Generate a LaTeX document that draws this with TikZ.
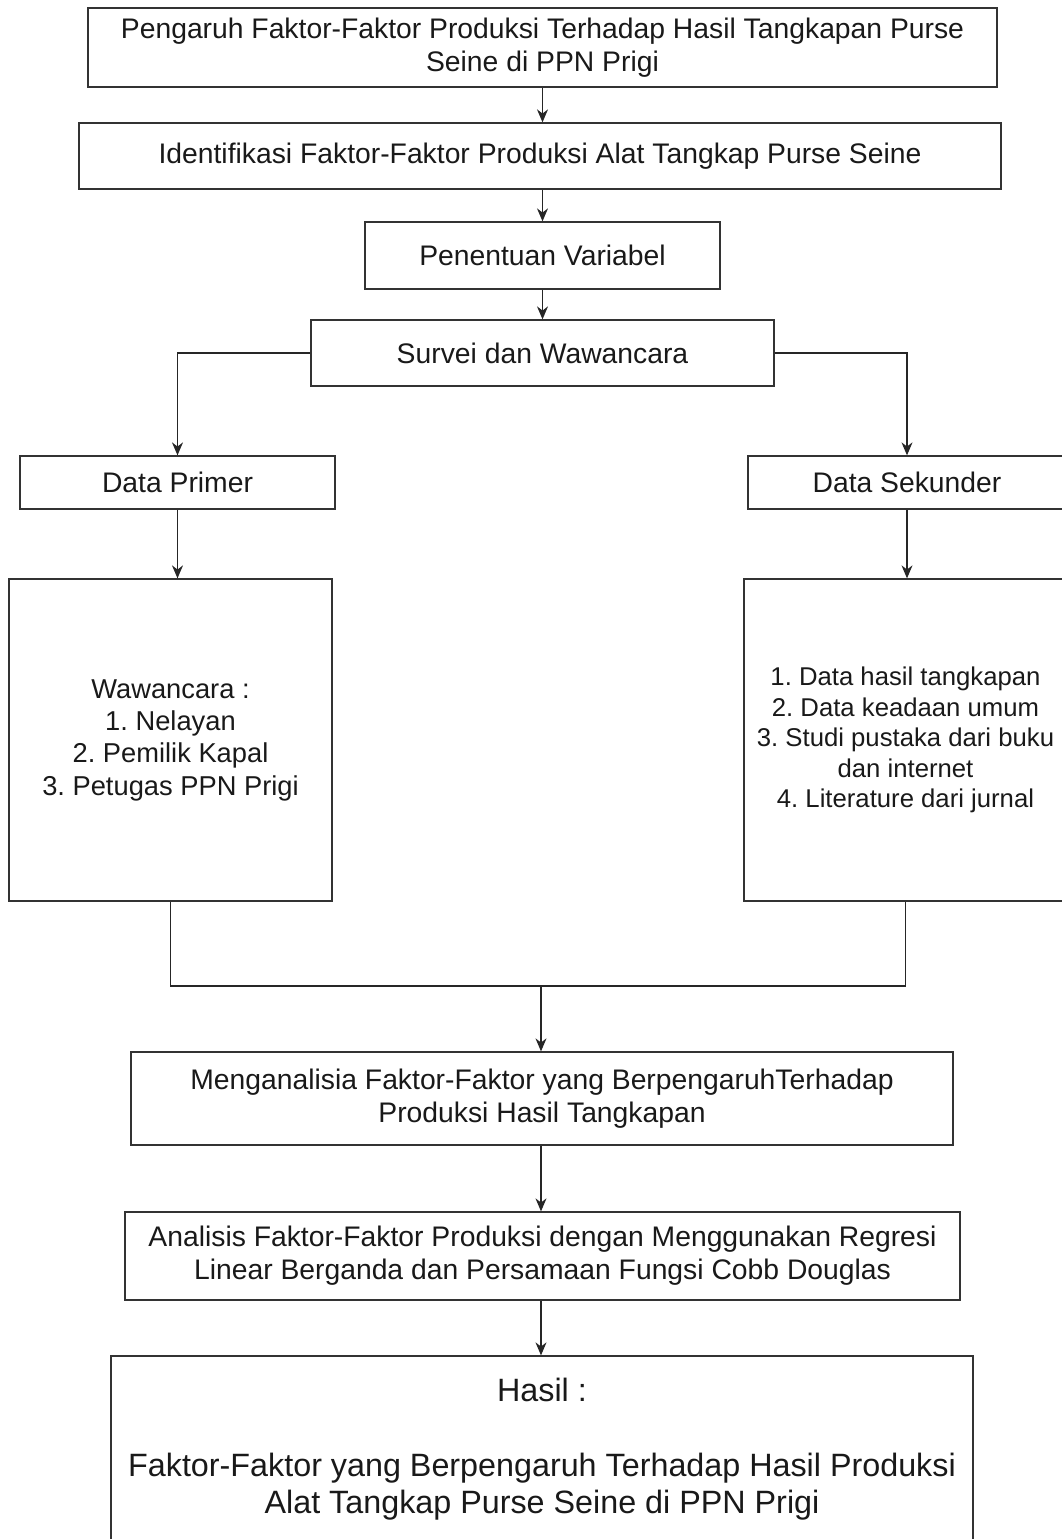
\documentclass[tikz,border=0pt]{standalone}
\usepackage{fontspec}
\setmainfont{Liberation Sans}
\usetikzlibrary{arrows.meta, positioning}
\frenchspacing

\begin{document}
\begin{tikzpicture}[x=1pt, y=-1pt,
    kotak/.style={draw=black!80, line width=1.3pt, align=center, inner sep=0pt,
        text=black!90, font=\fontsize{28.3}{33}\selectfont},
    panah/.style={-{Stealth[length=13pt, width=11pt]}, line width=1.3pt, draw=black!85}]
    \useasboundingbox (0,0) rectangle (1062,1539);
    \clip (0,0) rectangle (1062,1539);

    % alur utama
    \node[kotak, minimum width=909, minimum height=79] (judul) at (542.5,47.5)
        {Pengaruh Faktor-Faktor Produksi Terhadap Hasil Tangkapan Purse\\Seine di PPN Prigi};
    \node[kotak, minimum width=922, minimum height=66] (identifikasi) at (540,156)
        {Identifikasi Faktor-Faktor Produksi Alat Tangkap Purse Seine};
    \node[kotak, minimum width=355, minimum height=67] (variabel) at (542.5,255.5)
        {Penentuan Variabel};
    \node[kotak, minimum width=463, minimum height=66] (survei) at (542.5,353)
        {Survei dan Wawancara};

    % cabang data
    \node[kotak, minimum width=315, minimum height=53] (primer) at (177.5,482.5) {Data Primer};
    \node[kotak, minimum width=318, minimum height=53] (sekunder) at (907,482.5) {Data Sekunder};
    \node[kotak, minimum width=323, minimum height=322, font=\fontsize{27.3}{32.3}\selectfont] (wawancara) at (170.5,740)
        {Wawancara :\\1. Nelayan\\2. Pemilik Kapal\\3. Petugas PPN Prigi};
    \node[kotak, minimum width=323, minimum height=322, font=\fontsize{25.7}{30.5}\selectfont] (daftar) at (905.5,740)
        {1. Data hasil tangkapan\\2. Data keadaan umum\\3. Studi pustaka dari buku\\dan internet\\4. Literature dari jurnal};

    % analisis
    \node[kotak, minimum width=822, minimum height=93] (analisa) at (542,1098.5)
        {Menganalisia Faktor-Faktor yang BerpengaruhTerhadap\\Produksi Hasil Tangkapan};
    \node[kotak, minimum width=835, minimum height=88] (regresi) at (542.5,1256)
        {Analisis Faktor-Faktor Produksi dengan Menggunakan Regresi\\Linear Berganda dan Persamaan Fungsi Cobb Douglas};
    \node[kotak, minimum width=862, minimum height=186, font=\fontsize{32.3}{37.5}\selectfont] (hasil) at (542,1449)
        {Hasil :\\[37.5pt]Faktor-Faktor yang Berpengaruh Terhadap Hasil Produksi\\Alat Tangkap Purse Seine di PPN Prigi};

    \coordinate (gabung) at (541,986);

    \draw[panah] (judul.south) -- (judul.south |- identifikasi.north);
    \draw[panah] (identifikasi.south -| judul.south) -- (judul.south |- variabel.north);
    \draw[panah] (variabel.south -| judul.south) -- (judul.south |- survei.north);
    \draw[panah] (survei.west) -| (primer.north);
    \draw[panah] (survei.east) -| (sekunder.north);
    \draw[panah] (primer.south) -- (primer.south |- wawancara.north);
    \draw[panah] (sekunder.south) -- (sekunder.south |- daftar.north);
    \draw[line width=1.3pt, draw=black!85] (wawancara.south) |- (gabung) -| (daftar.south);
    \draw[panah] (gabung) -- (gabung |- analisa.north);
    \draw[panah] (analisa.south -| gabung) -- (gabung |- regresi.north);
    \draw[panah] (regresi.south -| gabung) -- (gabung |- hasil.north);
\end{tikzpicture}
\end{document}
